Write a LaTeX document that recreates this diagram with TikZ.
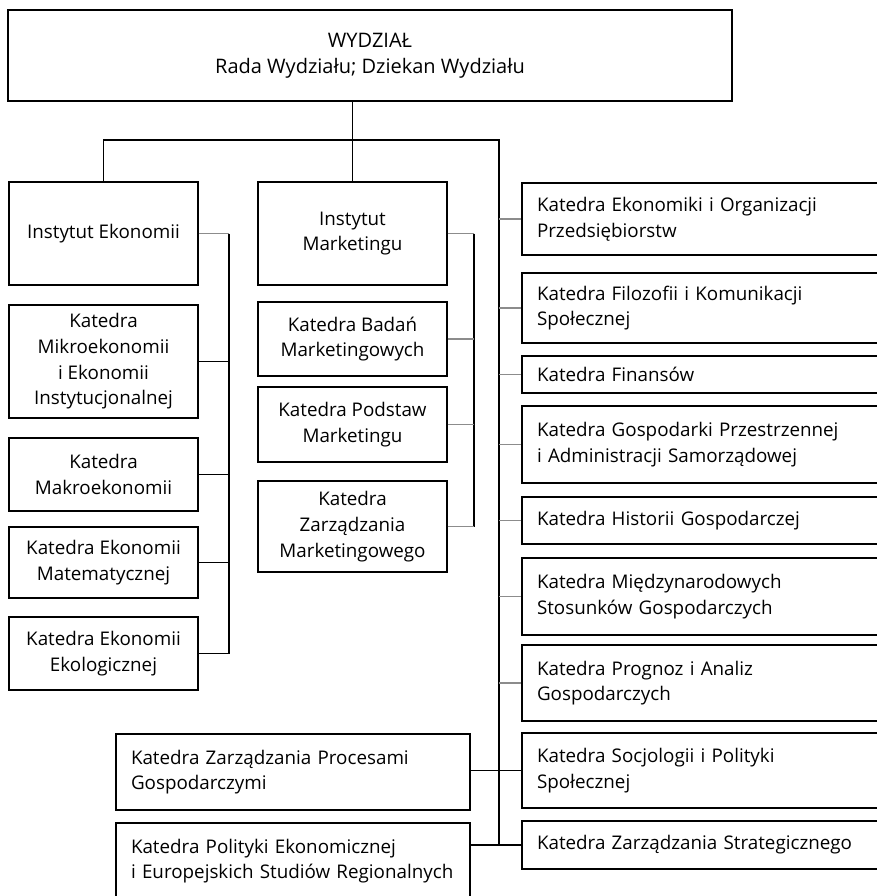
\documentclass[tikz,border=0pt]{standalone}
\usepackage{fontspec}
\setmainfont{Open Sans}
\begin{document}
\begin{tikzpicture}[x=1pt,y=-1pt,
  box/.style={draw=black,line width=1.2pt,inner sep=0pt,
    font=\fontsize{18.8}{25.7}\selectfont},
  cbox/.style={box,align=center},
  lbox/.style={box,align=left,inner xsep=15pt},
  link/.style={line width=1.2pt,black},
  faint/.style={line width=1.2pt,black!45}]
\useasboundingbox (0,0) rectangle (876,896);

% faculty head
\node[cbox,minimum width=724,minimum height=91,font=\fontsize{20}{25.7}\selectfont] (top) at (370,55.5)
  {WYDZIA\L\\Rada Wydzia\l u; Dziekan Wydzia\l u};

% institute of economics and its chairs
\node[cbox,minimum width=189,minimum height=103] (ie) at (103.5,233.5) {Instytut Ekonomii};
\node[cbox,minimum width=189,minimum height=113] (mikro) at (103.5,361.5)
  {Katedra\\Mikroekonomii\\i Ekonomii\\Instytucjonalnej};
\node[cbox,minimum width=189,minimum height=73] (makro) at (103.5,474.5)
  {Katedra\\Makroekonomii};
\node[cbox,minimum width=189,minimum height=71] (mat) at (103.5,562.5)
  {Katedra Ekonomii\\Matematycznej};
\node[cbox,minimum width=189,minimum height=73] (eko) at (103.5,653.5)
  {Katedra Ekonomii\\Ekologicznej};

% institute of marketing and its chairs
\node[cbox,minimum width=189,minimum height=103] (im) at (352.5,233.5) {Instytut\\Marketingu};
\node[cbox,minimum width=189,minimum height=74] (bad) at (352.5,339)
  {Katedra Bada\'n\\Marketingowych};
\node[cbox,minimum width=189,minimum height=75] (pod) at (352.5,424.5)
  {Katedra Podstaw\\Marketingu};
\node[cbox,minimum width=189,minimum height=91] (zm) at (352.5,526.5)
  {Katedra\\Zarz\k adzania\\Marketingowego};

% chairs attached directly to the faculty
\tikzset{rbox/.style={lbox,minimum width=358,text width=328}}
\node[rbox,minimum height=72] (r1) at (701,219)
  {Katedra Ekonomiki i Organizacji\\Przedsi\k ebiorstw};
\node[rbox,minimum height=70] (r2) at (701,308)
  {Katedra Filozofii i Komunikacji\\Spo\l ecznej};
\node[rbox,minimum height=37] (r3) at (701,374.5) {Katedra Finans\'ow};
\node[rbox,minimum height=77] (r4) at (701,444.5)
  {Katedra Gospodarki Przestrzennej\\i Administracji Samorz\k adowej};
\node[rbox,minimum height=47] (r5) at (701,520.5) {Katedra Historii Gospodarczej};
\node[rbox,minimum height=77] (r6) at (701,596.5)
  {Katedra Mi\k edzynarodowych\\Stosunk\'ow Gospodarczych};
\node[rbox,minimum height=76] (r7) at (701,683)
  {Katedra Prognoz i Analiz\\Gospodarczych};
\node[rbox,minimum height=75] (r8) at (701,770.5)
  {Katedra Socjologii i Polityki\\Spo\l ecznej};
\node[rbox,minimum height=48] (r9) at (701,845)
  {Katedra Zarz\k adzania Strategicznego};

\tikzset{bbox/.style={lbox,minimum width=354,text width=324}}
\node[bbox,minimum height=76] (proc) at (293,772)
  {Katedra Zarz\k adzania Procesami\\Gospodarczymi};
\node[bbox,minimum height=76] (pol) at (293,861)
  {\mbox{Katedra Polityki Ekonomicznej}\\\mbox{i Europejskich Studi\'ow Regionalnych}};

% connector rails
\coordinate (sp) at (499,140);
\coordinate (er) at (229,0);
\coordinate (mr) at (474,0);

% faculty to institutes and main spine
\draw[link] (im.north |- top.south) -- (im.north);
\draw[link] (ie.north) |- (sp) -- (sp |- r9.west);

% economics rail
\draw[faint] (ie.east) -- (ie.east -| er);
\draw[link] (ie.east -| er) -- (eko.east -| er);
\draw[link] (mikro.east) -- (mikro.east -| er);
\draw[link] (makro.east) -- (makro.east -| er);
\draw[link] (mat.east) -- (mat.east -| er);
\draw[link] (eko.east) -- (eko.east -| er);

% marketing rail
\draw[faint] (im.east) -- (im.east -| mr);
\draw[link] (im.east -| mr) -- (zm.east -| mr);
\draw[faint] (bad.east) -- (bad.east -| mr);
\draw[faint] (pod.east) -- (pod.east -| mr);
\draw[faint] (zm.east) -- (zm.east -| mr);

% chairs on the main spine
\foreach \n in {r1,r2,r3,r4,r5,r6,r7}
  \draw[faint] (\n.west -| sp) -- (\n.west);
\draw[link] (proc.east |- r8.west) -- (r8.west);
\draw[link] (pol.east |- r9.west) -- (r9.west);
\end{tikzpicture}
\end{document}
